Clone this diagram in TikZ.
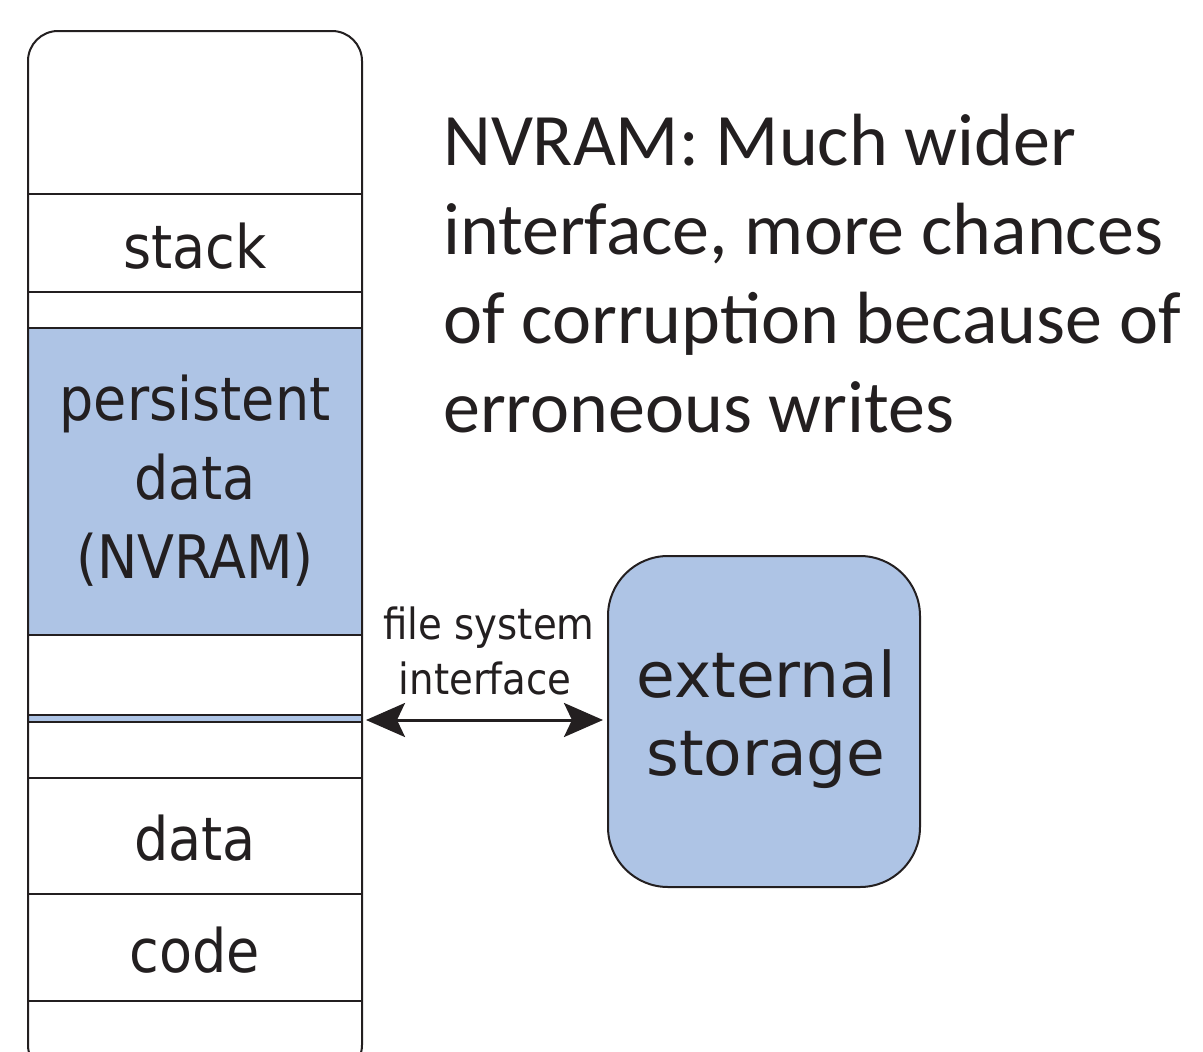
\documentclass[tikz,border=0pt]{standalone}
\usepackage{fontspec}
\setmainfont{Carlito}
\newfontfamily\colfont{DejaVu Sans Condensed}
\newfontfamily\extfont{DejaVu Sans}
\usetikzlibrary{arrows.meta}
\definecolor{ink}{HTML}{231F20}
\definecolor{nvblue}{HTML}{AEC4E5}
\tikzset{
  lin/.style={draw=ink, line width=2pt},
  collabel/.style={font=\colfont\fontsize{60}{80}\selectfont, text=ink, inner sep=0pt, anchor=base},
  ifacelabel/.style={font=\colfont\fontsize{43}{55}\selectfont, text=ink, inner sep=0pt, anchor=base},
  extlabel/.style={font=\extfont\fontsize{63}{78}\selectfont, text=ink, inner sep=0pt, anchor=base},
  notelabel/.style={font=\fontsize{74}{89}\selectfont, text=ink, inner sep=0pt, anchor=base west},
  extbox/.style={lin, fill=nvblue, rounded corners=60pt, minimum width=312pt, minimum height=331pt, inner sep=0pt},
  bigarrow/.style={ink, line width=3pt, {Stealth[length=39pt,width=34pt,inset=8pt]}-{Stealth[length=39pt,width=34pt,inset=8pt]}}
}
\begin{document}
\begin{tikzpicture}[x=1pt,y=-1pt]
\useasboundingbox (0,0) rectangle (1203,1052);
\clip (0,0) rectangle (1203,1052);
% column fill regions
\fill[white] (28,31) rectangle (362,1070);
\fill[nvblue] (28,328) rectangle (362,635);
\fill[nvblue] (28,715) rectangle (362,722);
% separators
\foreach \yy in {194,292,328,635,715,722,778,894,1001}
  \draw[lin] (28,\yy) -- (362,\yy);
% column outline
\draw[lin, rounded corners=30pt] (28,31) rectangle (362,1075);
% column labels
\node[collabel] (stack) at (195,268) {stack};
\node[collabel] (p1) at (195,420) {persistent};
\node[collabel] (p2) at (195,499) {data};
\node[collabel] (p3) at (195,578) {(NVRAM)};
\node[collabel] (data) at (195,860) {data};
\node[collabel] (code) at (195,972) {code};
% external storage
\node[extbox] (ext) at (764,721.5) {};
\node[extlabel] (e1) at (766,697) {external};
\node[extlabel] (e2) at (766,775) {storage};
% interface arrow
\coordinate (L) at (366,720);
\coordinate (R) at (603,720);
\draw[bigarrow] (L) -- (R);
\node[ifacelabel] (i1) at (489,639) {file system};
\node[ifacelabel] (i2) at (485,694) {interface};
% note
\node[notelabel] (n1) at (443,165) {NVRAM: Much wider};
\node[notelabel] (n2) at (443,254) {interface, more chances};
\node[notelabel] (n3) at (443,343) {of corruption because of};
\node[notelabel] (n4) at (443,432) {erroneous writes};
\end{tikzpicture}
\end{document}
